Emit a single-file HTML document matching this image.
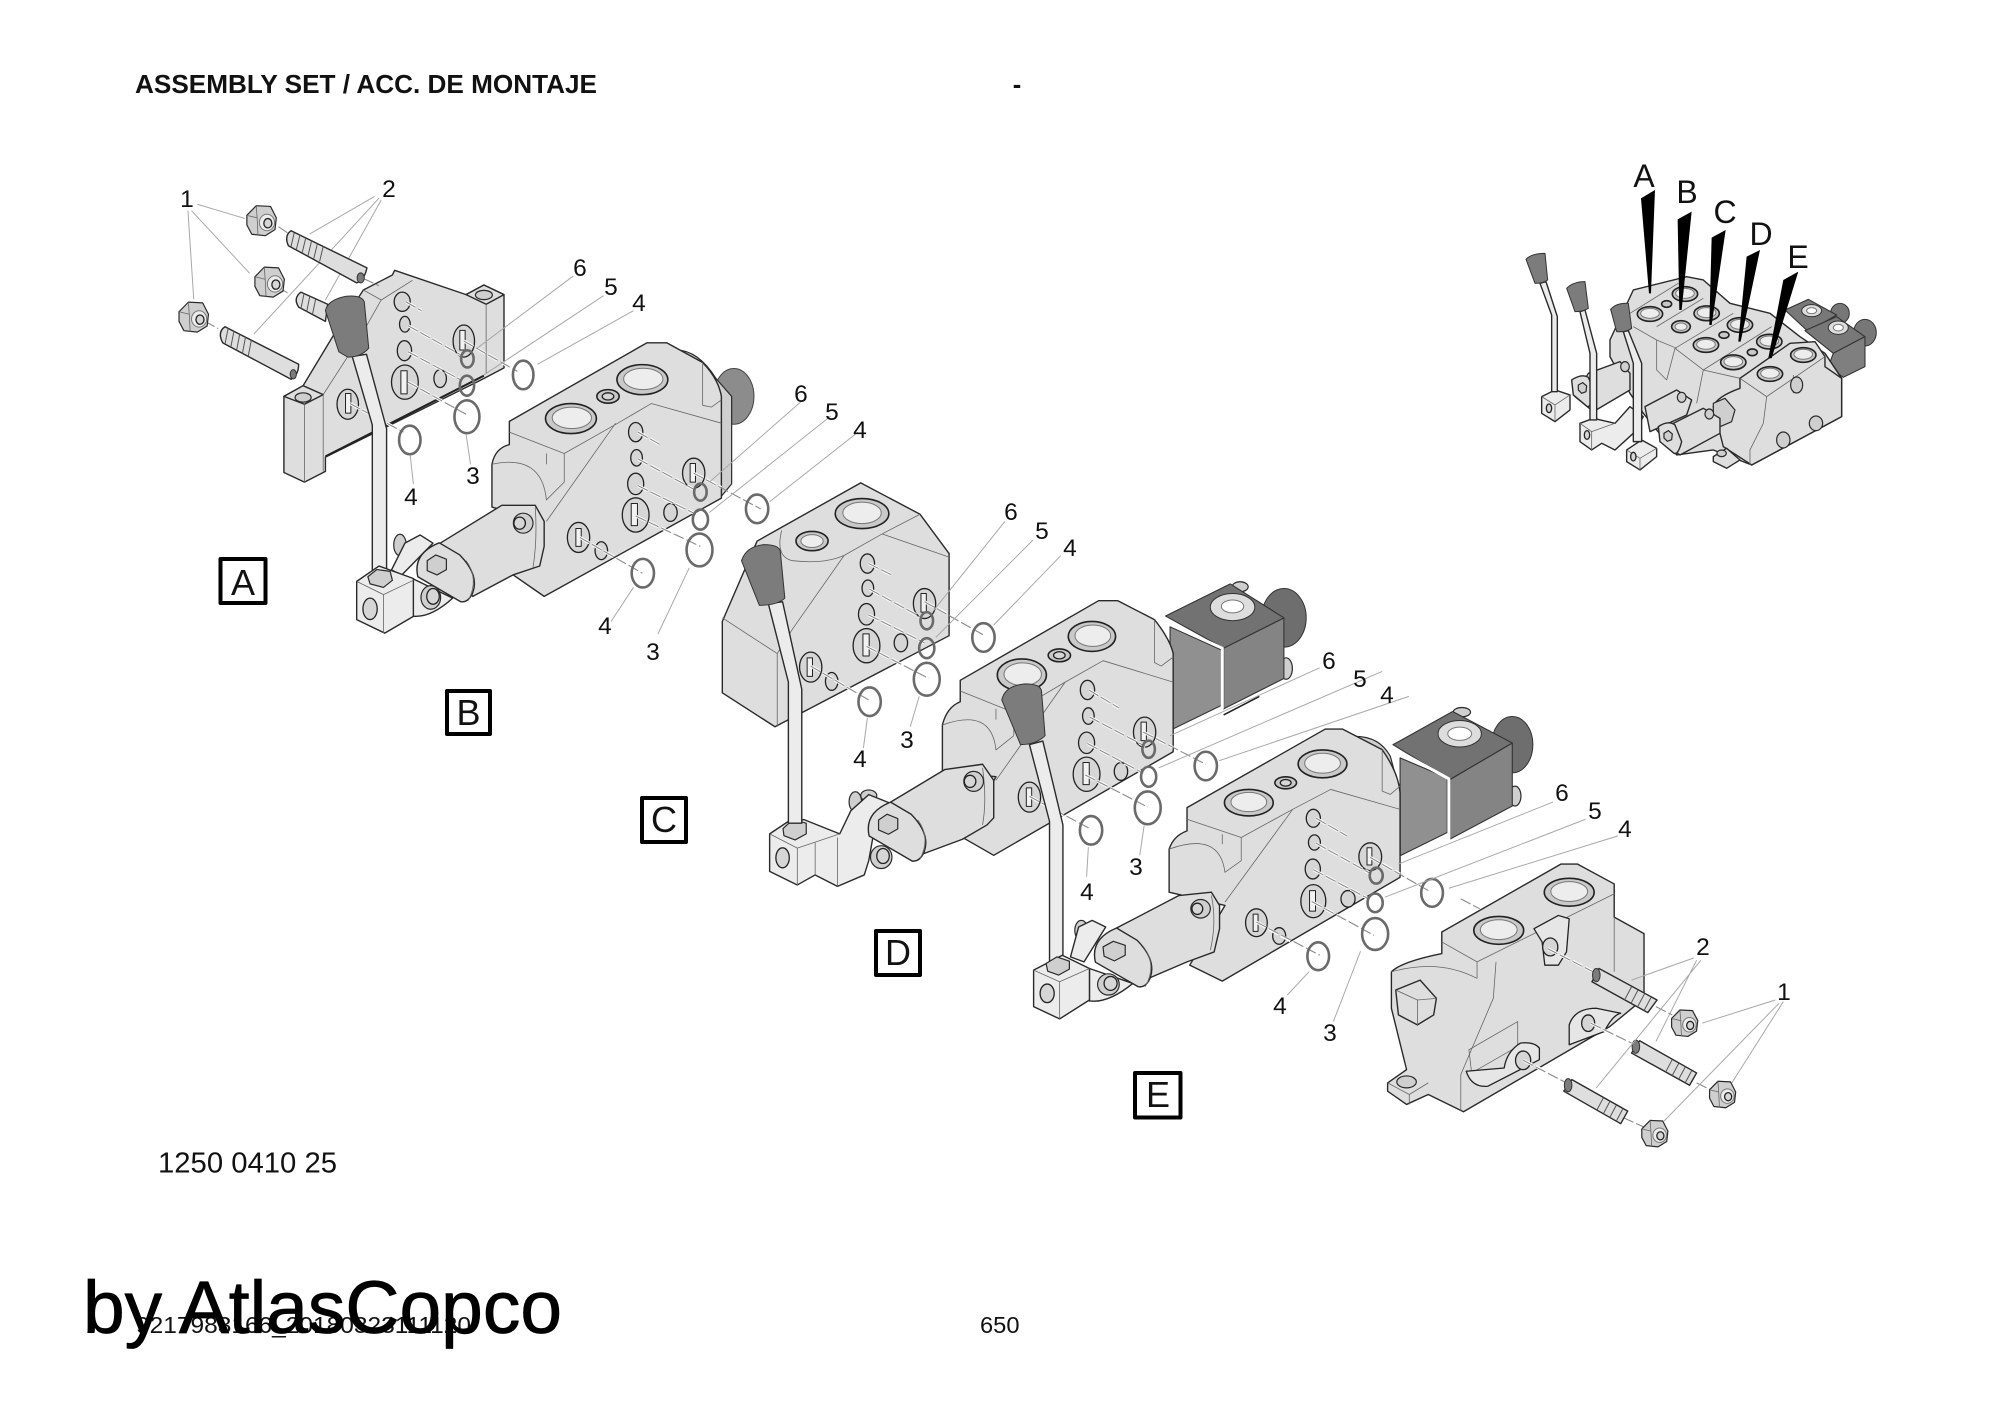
<!DOCTYPE html>
<html><head><meta charset="utf-8"><style>
html,body{margin:0;padding:0;background:#fff;width:2000px;height:1414px;overflow:hidden}
svg{display:block;position:absolute;left:0;top:0}
svg *{vector-effect:non-scaling-stroke;stroke-linejoin:round}
.b{fill:#dedede;stroke:#2a2a2a;stroke-width:1.4}
.w{fill:#ececec;stroke:#2a2a2a;stroke-width:1.4}
.g{fill:#cfcfcf;stroke:#2a2a2a;stroke-width:1.2}
.l{fill:none;stroke:#666;stroke-width:.8}
.h{fill:#d6d6d6;stroke:#222;stroke-width:1.3}
.s{fill:#f2f2f2;stroke:#222;stroke-width:1}
.u{fill:none;stroke:#fff;stroke-width:3;stroke-dasharray:11 3}
.d{fill:none;stroke:#8a8a8a;stroke-width:1.1;stroke-dasharray:11 3}
.r{fill:none;stroke:#6a6a6a;stroke-width:2.6}
.k{fill:none;stroke:#a8a8a8;stroke-width:1}
.n{fill:#7c7c7c;stroke:#333;stroke-width:1}
.m{fill:#848484;stroke:#333;stroke-width:1.1}
.t{fill:none;stroke:#555;stroke-width:1}
.p{fill:#c9c9c9;stroke:#222;stroke-width:1.6}
.i{fill:#ededed;stroke:#777;stroke-width:1}
text{font-family:"Liberation Sans",sans-serif;fill:#111}
.c{font-size:24.5px;text-anchor:middle}
.f{font-size:36px;text-anchor:middle}
.a{font-size:32px;text-anchor:middle}
.x{fill:#fff;stroke:#000;stroke-width:4}
</style></head><body>
<svg width="2000" height="1414" viewBox="0 0 2000 1414" xmlns="http://www.w3.org/2000/svg">
<defs>
<g id="nut"><path class="g" d="M-33,-15L-12,-42L20,-40L33,-8L30,25L8,42L-22,38L-33,12Z"/><path class="l" d="M-33,-15L-10,-8L-12,-42M-10,-8L-8,42"/><ellipse class="i" cx="12" cy="5" rx="17" ry="23"/><ellipse class="h" cx="14" cy="7" rx="9" ry="13"/></g>
</defs>

<!-- Zoom 1: plate A + section B -->
<g transform="translate(100 150) scale(.4464 .3571)">
<path class="k" d="M218,152L325,192M205,170L335,345M197,170L210,418M615,130L470,235M625,135L345,515M630,140L505,420"/>
<path class="b" d="M660,337L820,405L860,378L905,405L905,610L860,640L505,860L505,900L458,930L412,903L412,690L455,660L520,525L590,392L655,350Z"/>
<path class="b" d="M412,690L455,660L500,685L458,712Z"/><path class="l" d="M458,712V930M500,685V900"/>
<ellipse class="g" cx="455" cy="693" rx="18" ry="13"/>
<path class="b" d="M820,405L860,378L905,405L865,432Z"/><path class="l" d="M865,432V625"/>
<ellipse class="g" cx="860" cy="406" rx="19" ry="13"/>
<path d="M505,858L860,632" fill="none" stroke="#222" stroke-width="2"/>
<path class="l" d="M630,420L580,530L500,685M590,392L630,420L700,365"/>
<ellipse class="h" cx="677" cy="425" rx="18" ry="27"/><ellipse class="h" cx="683" cy="488" rx="12" ry="22"/><ellipse class="h" cx="682" cy="562" rx="16" ry="28"/>
<ellipse class="h" cx="683" cy="650" rx="30" ry="48"/><rect class="s" x="674" y="618" width="14" height="65"/>
<ellipse class="h" cx="762" cy="640" rx="14" ry="25"/>
<ellipse class="h" cx="815" cy="535" rx="24" ry="45"/><rect class="s" x="806" y="505" width="12" height="55"/>
<ellipse class="h" cx="555" cy="712" rx="24" ry="42"/><rect class="s" x="550" y="682" width="12" height="55"/>
<path class="u" d="M685,425L720,450M690,492L810,575M690,565L810,645M690,650L820,740M815,535L935,620M560,710L680,790"/>
<path class="d" d="M685,425L720,450M690,492L810,575M690,565L810,645M690,650L820,740M815,535L935,620M560,710L680,790M590,360L625,380M400,385L420,400M235,480L265,500M400,215L420,232"/>
<ellipse class="r" cx="823" cy="585" rx="14" ry="24"/><ellipse class="r" cx="822" cy="660" rx="16" ry="28"/><ellipse class="r" cx="948" cy="630" rx="23" ry="40"/><ellipse class="r" cx="822" cy="747" rx="28" ry="46"/><ellipse class="r" cx="694" cy="812" rx="24" ry="40"/>
<path class="k" d="M1060,353L845,555M1128,408L860,630M1195,450L980,600M820,795L830,880M695,855L702,935"/>
<!-- nuts -->
<use href="#nut" transform="translate(362 198)"/><use href="#nut" transform="translate(380 370)"/><use href="#nut" transform="translate(210 468)"/>
<!-- studs -->
<path class="b" d="M428,226L598,330Q592,365 575,372L422,268Q412,240 428,226Z"/><ellipse class="n" cx="584" cy="358" rx="8" ry="14"/>
<path class="t" d="M435,232L428,270M448,238L440,278M461,246L453,287M474,254L466,296M487,262L479,304M500,270L492,312"/>
<path class="b" d="M450,398L510,432L505,480L445,440Q432,415 450,398Z"/><path class="t" d="M457,402L450,445M470,410L463,453M483,418L476,460"/>
<path class="b" d="M280,495L445,600Q445,630 428,642L275,540Q262,510 280,495Z"/><ellipse class="n" cx="433" cy="628" rx="7" ry="13"/>
<path class="t" d="M287,500L280,543M300,508L293,552M313,516L306,561M326,524L319,570M339,532L332,578"/>
<!-- Section B -->
<ellipse cx="1420" cy="690" rx="45" ry="78" fill="#8c8c8c" stroke="#444"/>
<path class="g" d="M1290,560Q1340,560 1380,640L1415,690V935L1385,980Z"/>
<path class="b" d="M1225,540L1270,540L1350,595Q1385,640 1392,690V975L995,1250L920,1185L985,1040L878,1000V880Q885,835 917,825V760Z"/>
<path class="l" d="M917,790L1040,850L1160,765L1235,710L1392,765M1040,850V930M1000,850V880M1155,765L1000,1040M878,880Q990,850 1000,980L1040,930M1350,595V715L1370,720L1392,700"/>
<ellipse class="p" cx="1055" cy="752" rx="57" ry="42"/><ellipse class="i" cx="1057" cy="750" rx="44" ry="30"/>
<ellipse class="p" cx="1215" cy="643" rx="57" ry="42"/><ellipse class="i" cx="1217" cy="641" rx="44" ry="30"/>
<ellipse class="p" cx="1138" cy="690" rx="25" ry="19"/><ellipse class="h" cx="1138" cy="690" rx="13" ry="10"/>
<ellipse class="h" cx="1200" cy="790" rx="16" ry="27"/><ellipse class="h" cx="1202" cy="862" rx="13" ry="23"/><ellipse class="h" cx="1200" cy="935" rx="18" ry="30"/>
<ellipse class="h" cx="1200" cy="1022" rx="30" ry="48"/><rect class="s" x="1190" y="990" width="14" height="62"/>
<ellipse class="h" cx="1278" cy="1015" rx="15" ry="25"/>
<ellipse class="h" cx="1330" cy="905" rx="25" ry="42"/><rect class="s" x="1322" y="878" width="12" height="52"/>
<ellipse class="h" cx="1072" cy="1085" rx="25" ry="42"/><rect class="s" x="1066" y="1060" width="12" height="50"/>
<ellipse class="h" cx="1123" cy="1122" rx="14" ry="25"/>
<path class="u" d="M1205,790L1255,825M1205,865L1330,950M1205,940L1335,1020M1200,1025L1345,1110M1330,905L1392,945M1075,1085L1215,1185"/>
<path class="d" d="M1205,790L1255,825M1205,865L1330,950M1205,940L1335,1020M1200,1025L1345,1110M1330,905L1480,1005M1075,1085L1215,1185"/>
<ellipse class="r" cx="1345" cy="958" rx="14" ry="24"/><ellipse class="r" cx="1345" cy="1035" rx="17" ry="28"/><ellipse class="r" cx="1472" cy="1005" rx="25" ry="40"/><ellipse class="r" cx="1343" cy="1120" rx="29" ry="46"/><ellipse class="r" cx="1216" cy="1185" rx="25" ry="40"/>
<path class="k" d="M1570,705L1365,930M1637,745L1365,1015M1698,790L1500,985M1145,1320L1195,1225M1250,1355L1320,1170"/>
<!-- link + cylinder -->
<path class="w" d="M700,1200V1305Q740,1312 790,1255Z"/>
<ellipse class="g" cx="741" cy="1253" rx="22" ry="33"/><ellipse class="h" cx="746" cy="1250" rx="14" ry="22"/>
<ellipse class="g" cx="672" cy="1106" rx="14" ry="30"/>
<path class="w" d="M653,1176L676,1190L746,1101L717,1078L683,1101Z"/>
<path class="b" d="M900,995L975,995L995,1040V1110L985,1165L925,1190L835,1250L762,1101Z"/>
<path class="l" d="M975,1000Q980,1090 970,1170"/>
<path class="b" d="M760,1100L806,1134Q850,1190 835,1240Q825,1268 808,1265L712,1195Q700,1130 760,1100Z"/>
<path class="l" d="M820,1150Q850,1200 825,1262"/>
<path class="g" d="M733,1150L752,1134L776,1146L776,1175L755,1190L733,1178Z"/>
<ellipse class="g" cx="948" cy="1045" rx="22" ry="28"/><ellipse class="h" cx="940" cy="1045" rx="13" ry="17"/>
<!-- lever -->
<path class="w" d="M565,578L610,770V1190H642V780L597,572Z"/>
<path class="n" d="M505,450Q510,420 550,410Q585,405 592,425L602,555Q585,580 555,580L535,565Z"/>
<path class="w" d="M575,1208L625,1165L702,1200V1306L638,1353L575,1315Z"/>
<path class="l" d="M575,1208L635,1245L702,1205M635,1245V1353"/>
<path class="g" d="M600,1195L620,1175L650,1180L655,1205L635,1225L605,1215Z"/>
<ellipse class="h" cx="605" cy="1285" rx="16" ry="30"/>
</g>

<!-- Zoom 2: section C + section D -->
<g transform="translate(650 450) scale(.4464 .3571)">
<!-- Section C -->
<path class="b" d="M472,92L605,180L670,290V520L280,775L162,680V480L240,255Z"/>
<path class="l" d="M162,470L285,570V775M320,500L435,295M285,570L320,500M520,235L670,300M605,180L520,235M295,225Q280,300 320,310Q390,320 435,295L520,235"/>
<ellipse class="p" cx="475" cy="178" rx="60" ry="42"/><ellipse class="i" cx="475" cy="176" rx="43" ry="30"/>
<ellipse class="p" cx="363" cy="255" rx="36" ry="27"/><ellipse class="i" cx="363" cy="255" rx="25" ry="18"/>
<ellipse class="h" cx="487" cy="318" rx="16" ry="27"/><ellipse class="h" cx="488" cy="387" rx="13" ry="23"/><ellipse class="h" cx="485" cy="460" rx="18" ry="30"/>
<ellipse class="h" cx="485" cy="548" rx="30" ry="48"/><rect class="s" x="477" y="515" width="14" height="62"/>
<ellipse class="h" cx="562" cy="540" rx="15" ry="25"/>
<ellipse class="h" cx="615" cy="430" rx="25" ry="42"/><rect class="s" x="607" y="402" width="12" height="52"/>
<ellipse class="h" cx="360" cy="608" rx="25" ry="42"/><rect class="s" x="352" y="582" width="12" height="52"/>
<ellipse class="h" cx="407" cy="648" rx="14" ry="25"/>
<path class="u" d="M490,318L545,352M492,390L610,470M490,462L615,540M485,550L625,640M615,425L670,462M360,605L490,700"/>
<path class="d" d="M490,318L545,352M492,390L610,470M490,462L615,540M485,550L625,640M615,425L750,520M360,605L490,700"/>
<ellipse class="r" cx="620" cy="478" rx="14" ry="24"/><ellipse class="r" cx="620" cy="555" rx="17" ry="28"/><ellipse class="r" cx="747" cy="525" rx="25" ry="40"/><ellipse class="r" cx="620" cy="642" rx="29" ry="46"/><ellipse class="r" cx="492" cy="705" rx="25" ry="40"/>
<path class="k" d="M795,200L635,450M858,252L640,525M920,296L770,490M603,690L583,775M487,750L478,835"/>
<!-- Section D solenoid -->
<ellipse cx="1420" cy="470" rx="50" ry="82" fill="#6e6e6e" stroke="#333"/>
<ellipse class="g" cx="1322" cy="383" rx="18" ry="14"/><ellipse class="g" cx="1425" cy="612" rx="14" ry="30"/>
<path class="m" d="M1285,555L1420,470V640L1285,725Z"/>
<path class="m" d="M1155,465L1300,375L1420,470L1285,555Z" style="fill:#727272"/>
<path class="m" d="M1165,495L1280,560V715L1165,785Z" style="fill:#909090"/>
<path d="M1155,483L1282,555V725" fill="none" stroke="#fff" stroke-width="3"/>
<path d="M1285,742L1365,690" fill="none" stroke="#222" stroke-width="1.6"/>
<ellipse cx="1305" cy="440" rx="50" ry="38" fill="#ddd" stroke="#333"/><ellipse cx="1305" cy="438" rx="25" ry="18" fill="#fff" stroke="#777"/>
<!-- Section D body -->
<path class="g" d="M1070,450Q1120,450 1150,530L1172,570Z"/>
<path class="b" d="M1005,422H1048L1130,475Q1165,530 1172,570V845L770,1135L700,1085L775,915L655,900V770Q665,720 695,705V645Z"/>
<path class="l" d="M695,675L815,735L930,650L1015,590L1172,650M815,735V800M775,725V755M930,650L775,925M655,770Q765,720 775,840L815,800M1130,475V595L1145,605L1172,580"/>
<ellipse class="p" cx="990" cy="522" rx="53" ry="42"/><ellipse class="i" cx="992" cy="520" rx="40" ry="30"/>
<ellipse class="p" cx="833" cy="630" rx="55" ry="45"/><ellipse class="i" cx="835" cy="628" rx="42" ry="32"/>
<ellipse class="p" cx="917" cy="575" rx="25" ry="18"/><ellipse class="h" cx="917" cy="575" rx="13" ry="10"/>
<ellipse class="h" cx="980" cy="672" rx="16" ry="27"/><ellipse class="h" cx="982" cy="745" rx="13" ry="23"/><ellipse class="h" cx="978" cy="820" rx="18" ry="30"/>
<ellipse class="h" cx="978" cy="908" rx="30" ry="48"/><rect class="s" x="970" y="875" width="14" height="62"/>
<ellipse class="h" cx="1055" cy="900" rx="15" ry="25"/>
<ellipse class="h" cx="1108" cy="790" rx="25" ry="42"/><rect class="s" x="1100" y="762" width="12" height="52"/>
<ellipse class="h" cx="850" cy="972" rx="25" ry="42"/><rect class="s" x="843" y="946" width="12" height="52"/>
<path class="u" d="M983,672L1050,722M985,748L1110,830M980,822L1105,905M975,910L1115,1000M1105,790L1172,833M850,970L930,1025"/>
<path class="d" d="M983,672L1050,722M985,748L1110,830M980,822L1105,905M975,910L1115,1000M1105,790L1245,880M850,970L985,1060"/>
<ellipse class="r" cx="1117" cy="838" rx="14" ry="24"/><ellipse class="r" cx="1117" cy="915" rx="17" ry="28"/><ellipse class="r" cx="1245" cy="885" rx="25" ry="40"/><ellipse class="r" cx="1115" cy="1002" rx="29" ry="46"/><ellipse class="r" cx="988" cy="1065" rx="25" ry="40"/>
<path class="k" d="M1500,610L1165,800M1640,620L1140,890M1700,690L1275,870M1107,1052L1097,1135M982,1112L978,1195"/>
<!-- Section C cylinder & block -->
<ellipse class="g" cx="518" cy="1140" rx="24" ry="32"/><ellipse class="h" cx="522" cy="1137" rx="14" ry="21"/>
<ellipse class="g" cx="460" cy="985" rx="14" ry="28"/><ellipse class="g" cx="490" cy="968" rx="18" ry="16"/>
<path class="w" d="M268,1075L310,1040L345,1035L425,1075L450,1010L490,965L540,990L500,1080L490,1150L480,1190L420,1222L370,1190L330,1218L268,1180Z"/>
<path class="l" d="M268,1075L330,1115V1218M330,1115L425,1075M370,1100V1190M420,1085V1222"/>
<path class="b" d="M660,895L745,880L770,925V1030L755,1050L700,1090L614,1130L539,986Z"/>
<path class="l" d="M745,890Q755,980 745,1050"/>
<path class="b" d="M539,986L585,1020Q629,1076 614,1126Q604,1154 587,1151L491,1081Q479,1016 539,986Z"/>
<path class="l" d="M600,1036Q630,1086 604,1148"/>
<path class="g" d="M512,1036L531,1020L555,1032V1061L534,1076L512,1064Z"/>
<ellipse class="g" cx="725" cy="928" rx="22" ry="28"/><ellipse class="h" cx="717" cy="928" rx="13" ry="17"/>
<ellipse class="h" cx="297" cy="1142" rx="15" ry="28"/>
<path class="g" d="M298,1060L320,1035L350,1045V1075L325,1092L300,1080Z"/>
<!-- levers -->
<path class="w" d="M265,430L310,650V1045H340V670L297,425Z"/>
<path class="n" d="M205,310Q215,270 255,265Q290,265 292,285L302,415Q285,435 245,435Z"/>
<path class="w" d="M850,825L895,1040V1450H925V1050L880,815Z"/>
<path class="n" d="M788,700Q795,660 840,655Q875,655 877,675L885,800Q865,825 830,825Z"/>
</g>

<!-- Zoom 3: section E, D block, end plate -->
<g transform="translate(1000 680) scale(.5421 .3316)">
<!-- E solenoid -->
<ellipse cx="945" cy="195" rx="38" ry="85" fill="#6e6e6e" stroke="#333"/>
<ellipse class="g" cx="852" cy="97" rx="16" ry="14"/><ellipse class="g" cx="950" cy="350" rx="11" ry="30"/>
<path class="m" d="M830,300L945,190V380L830,480Z"/>
<path class="m" d="M725,195L835,95L945,190L830,300Z" style="fill:#727272"/>
<path class="m" d="M738,235L825,295V460L738,530Z" style="fill:#909090"/>
<path d="M725,205L828,298V490" fill="none" stroke="#fff" stroke-width="3"/>
<ellipse cx="848" cy="162" rx="40" ry="40" fill="#ddd" stroke="#333"/><ellipse cx="848" cy="162" rx="22" ry="20" fill="#fff" stroke="#777"/>
<!-- E body -->
<path class="g" d="M655,170Q700,170 720,230L738,340Z"/>
<path class="b" d="M600,148H632L705,210Q735,280 738,340V595L410,908L350,860L415,680L312,640V510Q320,470 345,455V385Z"/>
<path class="l" d="M345,420L445,475L540,390L610,330L738,390M445,475V545M410,465V495M540,390L415,670M312,510Q405,455 415,580L445,545M705,210V335L720,345L738,320"/>
<ellipse class="p" cx="595" cy="253" rx="45" ry="42"/><ellipse class="i" cx="595" cy="251" rx="33" ry="30"/>
<ellipse class="p" cx="459" cy="370" rx="45" ry="40"/><ellipse class="i" cx="459" cy="368" rx="33" ry="29"/>
<ellipse class="p" cx="527" cy="310" rx="20" ry="18"/><ellipse class="h" cx="527" cy="310" rx="10" ry="10"/>
<ellipse class="h" cx="578" cy="417" rx="13" ry="27"/><ellipse class="h" cx="580" cy="490" rx="11" ry="23"/><ellipse class="h" cx="577" cy="570" rx="14" ry="30"/>
<ellipse class="h" cx="578" cy="667" rx="23" ry="50"/><rect class="s" x="571" y="635" width="11" height="62"/>
<ellipse class="h" cx="642" cy="660" rx="13" ry="25"/>
<ellipse class="h" cx="683" cy="533" rx="21" ry="42"/><rect class="s" x="677" y="506" width="9" height="52"/>
<ellipse class="h" cx="473" cy="732" rx="20" ry="42"/><rect class="s" x="467" y="706" width="9" height="52"/>
<ellipse class="h" cx="515" cy="772" rx="12" ry="25"/>
<path class="u" d="M583,417L640,470M583,492L685,585M578,572L680,660M575,668L650,735M683,535L738,585M473,730L545,795"/>
<path class="d" d="M583,417L640,470M583,492L685,585M578,572L680,660M575,668L690,770M683,535L790,635M473,730L590,830M850,660L885,690"/>
<ellipse class="r" cx="694" cy="590" rx="12" ry="24"/><ellipse class="r" cx="692" cy="672" rx="14" ry="28"/><ellipse class="r" cx="797" cy="642" rx="20" ry="42"/><ellipse class="r" cx="692" cy="766" rx="24" ry="48"/><ellipse class="r" cx="587" cy="833" rx="20" ry="42"/>
<path class="k" d="M1020,368L735,555M1080,420L710,655M1140,470L828,628M665,818L615,1030M570,880L530,950"/>
<!-- D lever base -->
<path class="w" d="M165,870V968Q200,975 245,915Z"/>
<ellipse class="g" cx="200" cy="918" rx="20" ry="32"/><ellipse class="h" cx="204" cy="915" rx="12" ry="21"/>
<ellipse class="g" cx="150" cy="755" rx="12" ry="30"/>
<path class="w" d="M130,835L155,850L195,745L170,725L145,745Z"/>
<path class="b" d="M330,650L390,640L405,680V750L395,820L345,850L275,899L215,748Z"/>
<path class="l" d="M390,650Q400,730 388,815"/>
<path class="b" d="M215,748L253,785Q289,845 277,899Q269,929 255,925L176,851Q166,781 215,748Z"/>
<path class="l" d="M265,805Q290,860 268,925"/>
<path class="g" d="M190,805L209,788L231,800V830L211,847L192,833Z"/>
<ellipse class="g" cx="370" cy="690" rx="18" ry="28"/><ellipse class="h" cx="364" cy="690" rx="10" ry="17"/>
<path class="w" d="M62,875L115,830L165,870V965L110,1022L62,985Z"/>
<path class="l" d="M62,875L110,910L165,870M110,910V1022"/>
<path class="g" d="M85,855L105,835L128,848V872L108,890L88,878Z"/>
<ellipse class="h" cx="87" cy="945" rx="13" ry="28"/>
<!-- End plate -->
<path class="b" d="M1035,555H1065L1133,615V715L1188,765V960L1125,1045L855,1302L790,1250L750,1280L715,1240V1215L750,1175L722,990V880Q740,850 815,825V760Z"/>
<path class="l" d="M815,790L880,850L1133,645M880,850V900M915,850L910,960L850,1190V1300M1133,715V880M722,880Q810,840 880,900"/>
<path class="l" d="M865,1115L955,1030V1105L870,1185Z"/>
<ellipse class="p" cx="1050" cy="640" rx="46" ry="42"/><ellipse class="i" cx="1050" cy="638" rx="34" ry="30"/>
<ellipse class="p" cx="920" cy="755" rx="46" ry="42"/><ellipse class="i" cx="920" cy="753" rx="34" ry="30"/>
<path d="M985,750L1030,710L1050,720L1045,820L1030,860H1005L1000,790Z" fill="#e6e6e6" stroke="#222" stroke-width="1.3"/>
<ellipse class="h" cx="1015" cy="805" rx="14" ry="27"/>
<path d="M1050,1100V1040Q1060,990 1100,990L1145,1005Q1130,1010 1115,1060Z" fill="#e6e6e6" stroke="#222" stroke-width="1.3"/>
<ellipse class="h" cx="1085" cy="1035" rx="12" ry="25"/>
<path d="M860,1180Q870,1230 900,1225L995,1145V1110Q985,1090 960,1095Q935,1120 930,1170Z" fill="#e6e6e6" stroke="#222" stroke-width="1.3"/>
<ellipse class="h" cx="965" cy="1147" rx="14" ry="28"/>
<path class="b" d="M730,935L775,905L805,960L800,1010L770,1040L735,1010Z"/>
<path class="l" d="M730,935L770,965L805,960M770,965V1040"/>
<path class="l" d="M715,1215L755,1250L790,1215M755,1250V1280"/>
<ellipse class="g" cx="750" cy="1212" rx="18" ry="18"/>
<path class="u" d="M1010,810L1095,880M1090,1035L1125,1065M965,1147L1000,1175"/>
<path class="d" d="M1010,810L1100,885M1210,985L1240,1010M1090,1035L1165,1095M1285,1215L1310,1235M965,1147L1045,1215M1150,1320L1190,1350"/>
<!-- studs -->
<path class="b" d="M1105,870L1212,965L1195,1003L1092,910Z"/><ellipse class="n" cx="1100" cy="890" rx="7" ry="20"/>
<path class="t" d="M1165,925L1152,965M1177,935L1164,975M1189,946L1176,986M1201,957L1188,997"/>
<path class="b" d="M1180,1088L1285,1185L1272,1222L1165,1125Z"/><ellipse class="n" cx="1173" cy="1106" rx="7" ry="20"/>
<path class="t" d="M1240,1145L1228,1182M1252,1156L1240,1193M1264,1167L1252,1204M1276,1178L1264,1215"/>
<path class="b" d="M1055,1205L1158,1300L1145,1338L1040,1240Z"/><ellipse class="n" cx="1048" cy="1222" rx="7" ry="20"/>
<path class="t" d="M1113,1260L1101,1297M1125,1271L1113,1308M1137,1282L1125,1319M1149,1293L1137,1330"/>
<use href="#nut" transform="translate(1263 1035) scale(.73 .95)"/><use href="#nut" transform="translate(1333 1250) scale(.73 .95)"/><use href="#nut" transform="translate(1208 1368) scale(.73 .95)"/>
<path class="k" d="M1280,838L1165,905M1285,845L1210,1090M1293,845L1100,1230M1430,965L1295,1035M1437,975L1225,1330M1445,970L1350,1215"/>
</g>

<!-- Inset -->
<g transform="translate(1500 140) scale(.3333)">
<ellipse cx="1020" cy="520" rx="28" ry="30" fill="#777" stroke="#333"/><ellipse cx="1095" cy="578" rx="34" ry="40" fill="#777" stroke="#333"/>
<path class="m" d="M855,510L925,478L1010,525L925,575Z" style="fill:#787878"/>
<path class="m" d="M915,572L1010,530L1095,590L1000,640Z" style="fill:#787878"/>
<path class="m" d="M1000,640L1095,590V680L1030,712L985,680Z" style="fill:#7f7f7f"/>
<ellipse cx="935" cy="512" rx="30" ry="18" fill="#ddd" stroke="#333"/><ellipse cx="935" cy="512" rx="15" ry="9" fill="#fff" stroke="#777"/>
<ellipse cx="1015" cy="563" rx="30" ry="20" fill="#ddd" stroke="#333"/><ellipse cx="1015" cy="563" rx="15" ry="10" fill="#fff" stroke="#777"/>
<path class="b" d="M330,600L400,450L560,410L610,420L690,490L810,520L900,590L975,640L1025,715V830L755,975L640,930L530,945L430,820L390,760L330,650Z"/>
<path class="l" d="M390,520L535,430M470,560L610,475M525,625L700,520M610,690L815,560M400,560L470,600L530,625M500,720L525,625L610,690M590,790L610,690L720,715M470,600V690L500,720"/>
<path class="b" d="M720,715L870,610L945,605L975,650V680L1025,715V830L755,975L670,920L640,800Q650,770 720,745Z"/>
<path class="l" d="M720,715L800,770L975,650M800,770L790,850L750,930V975M880,705V760"/>
<ellipse class="p" cx="450" cy="522" rx="38" ry="22"/><ellipse class="i" cx="450" cy="520" rx="28" ry="15"/>
<ellipse class="p" cx="555" cy="462" rx="38" ry="22"/><ellipse class="i" cx="555" cy="460" rx="28" ry="15"/>
<ellipse class="p" cx="543" cy="560" rx="28" ry="18"/><ellipse class="i" cx="543" cy="560" rx="18" ry="11"/>
<ellipse class="p" cx="620" cy="520" rx="38" ry="22"/><ellipse class="i" cx="620" cy="518" rx="28" ry="15"/>
<ellipse class="p" cx="618" cy="615" rx="38" ry="22"/><ellipse class="i" cx="618" cy="613" rx="28" ry="15"/>
<ellipse class="p" cx="720" cy="555" rx="38" ry="22"/><ellipse class="i" cx="720" cy="553" rx="28" ry="15"/>
<ellipse class="p" cx="700" cy="667" rx="38" ry="22"/><ellipse class="i" cx="700" cy="665" rx="28" ry="15"/>
<ellipse class="p" cx="808" cy="605" rx="38" ry="22"/><ellipse class="i" cx="808" cy="603" rx="28" ry="15"/>
<ellipse class="p" cx="810" cy="702" rx="38" ry="22"/><ellipse class="i" cx="810" cy="700" rx="28" ry="15"/>
<ellipse class="p" cx="910" cy="645" rx="38" ry="22"/><ellipse class="i" cx="910" cy="643" rx="28" ry="15"/>
<ellipse class="p" cx="500" cy="492" rx="15" ry="10"/><ellipse class="p" cx="672" cy="585" rx="15" ry="10"/><ellipse class="p" cx="757" cy="637" rx="15" ry="10"/>
<ellipse class="g" cx="890" cy="735" rx="18" ry="24"/><ellipse class="g" cx="948" cy="850" rx="20" ry="22"/><ellipse class="g" cx="850" cy="900" rx="20" ry="24"/>
<path class="g" d="M640,790L675,775L705,810L695,845L660,860L640,830Z"/>
<path class="b" d="M640,950L680,925L720,960L680,985L640,965Z"/><ellipse class="g" cx="665" cy="940" rx="14" ry="10"/>
<!-- cylinders -->
<path class="b" d="M265,700L360,665L390,700V750L280,815L225,770Z"/>
<path class="b" d="M435,800L530,750L575,780L560,825L450,875Z"/>
<path class="b" d="M510,855L610,805L660,835V880L540,945L480,905Z"/>
<path class="b" d="M215,720Q245,700 265,712L285,760Q275,800 262,800L220,765Z"/>
<path class="b" d="M475,860Q505,840 525,855L545,905Q535,945 522,940L480,905Z"/>
<path class="g" d="M235,735L248,728L260,738L258,755L245,760L235,750Z"/><path class="g" d="M492,880L505,872L517,882L515,899L502,904L492,894Z"/>
<ellipse class="g" cx="375" cy="680" rx="13" ry="15"/><ellipse class="g" cx="545" cy="772" rx="13" ry="15"/><ellipse class="g" cx="628" cy="822" rx="13" ry="15"/>
<!-- blocks -->
<path class="w" d="M125,770L165,750L210,765V810L165,845L125,820Z"/>
<path class="w" d="M240,850L280,835L345,850L390,800L430,830L400,880L345,930L305,910L275,930L240,905Z"/>
<path class="w" d="M380,930L425,900L470,925V950L420,990L380,965Z"/>
<path class="l" d="M125,770L165,795L210,765M165,795V845M240,850L275,875L345,850M275,875V930M380,930L420,955L470,925M420,955V990"/>
<ellipse class="h" cx="147" cy="805" rx="8" ry="13"/><ellipse class="h" cx="261" cy="885" rx="8" ry="13"/><ellipse class="h" cx="400" cy="950" rx="8" ry="13"/>
<!-- levers -->
<path class="w" d="M120,430L155,525V755H172V530L138,425Z"/>
<path class="n" d="M78,358Q95,340 135,340L143,420Q130,430 105,430Z"/>
<path class="w" d="M240,515L270,640V840H290V640L255,510Z"/>
<path class="n" d="M200,445Q220,425 255,425L265,505Q250,515 225,515Z"/>
<path class="w" d="M370,575L400,670V905H425V670L385,572Z"/>
<path class="n" d="M332,508Q350,488 385,490L395,565Q380,577 350,575Z"/>
<!-- wedges -->
<path fill="#000" d="M423,175L465,150L453,460H447ZM533,238L575,215L545,510H538ZM635,293L677,270L635,555H628ZM740,350L780,330L722,605H715ZM850,420L895,395L815,655H805Z"/>
</g>

<!-- Boxes -->
<rect class="x" x="220.5" y="559" width="45" height="44"/>
<rect class="x" x="447" y="691" width="43" height="43"/>
<rect class="x" x="642" y="798" width="44" height="44"/>
<rect class="x" x="876" y="931" width="44" height="44"/>
<rect class="x" x="1135" y="1073" width="45.5" height="44.5"/>
<text class="f" x="243" y="595">A</text><text class="f" x="468.5" y="725">B</text><text class="f" x="664" y="832">C</text><text class="f" x="898" y="965">D</text><text class="f" x="1158" y="1107">E</text>

<!-- Inset letters -->
<text class="a" x="1644" y="187">A</text><text class="a" x="1687" y="203">B</text><text class="a" x="1725" y="223">C</text><text class="a" x="1761" y="245">D</text><text class="a" x="1798" y="268">E</text>

<!-- Numbers -->
<text class="c" x="187" y="207">1</text><text class="c" x="389" y="197">2</text>
<text class="c" x="580" y="276">6</text><text class="c" x="611" y="295">5</text><text class="c" x="639" y="311">4</text>
<text class="c" x="411" y="505">4</text><text class="c" x="473" y="484">3</text>
<text class="c" x="605" y="634">4</text><text class="c" x="653" y="660">3</text>
<text class="c" x="801" y="402">6</text><text class="c" x="832" y="420">5</text><text class="c" x="860" y="438">4</text>
<text class="c" x="1011" y="520">6</text><text class="c" x="1042" y="539">5</text><text class="c" x="1070" y="556">4</text>
<text class="c" x="907" y="748">3</text><text class="c" x="860" y="767">4</text>
<text class="c" x="1329" y="669">6</text><text class="c" x="1360" y="687">5</text><text class="c" x="1387" y="703">4</text>
<text class="c" x="1136" y="875">3</text><text class="c" x="1087" y="900">4</text>
<text class="c" x="1562" y="801">6</text><text class="c" x="1595" y="819">5</text><text class="c" x="1625" y="837">4</text>
<text class="c" x="1280" y="1014">4</text><text class="c" x="1330" y="1041">3</text>
<text class="c" x="1703" y="955">2</text><text class="c" x="1784" y="1000">1</text>

<!-- Page text -->
<text x="135" y="93" font-size="25.5" font-weight="bold" textLength="462" lengthAdjust="spacingAndGlyphs">ASSEMBLY SET / ACC. DE MONTAJE</text>
<text x="1017" y="93" font-size="25.5" font-weight="bold" text-anchor="middle">-</text>
<text x="158" y="1172.5" font-size="29" textLength="179" lengthAdjust="spacingAndGlyphs">1250 0410 25</text>
<text x="136" y="1333" font-size="23" textLength="335" lengthAdjust="spacingAndGlyphs">9217983166_20180323111120</text>
<text x="980" y="1333" font-size="23" textLength="39.5" lengthAdjust="spacingAndGlyphs">650</text>
<text x="83" y="1333" font-size="74" textLength="479" lengthAdjust="spacingAndGlyphs" style="fill:#000;stroke:#000;stroke-width:.8">by AtlasCopco</text>
</svg>
</body></html>
